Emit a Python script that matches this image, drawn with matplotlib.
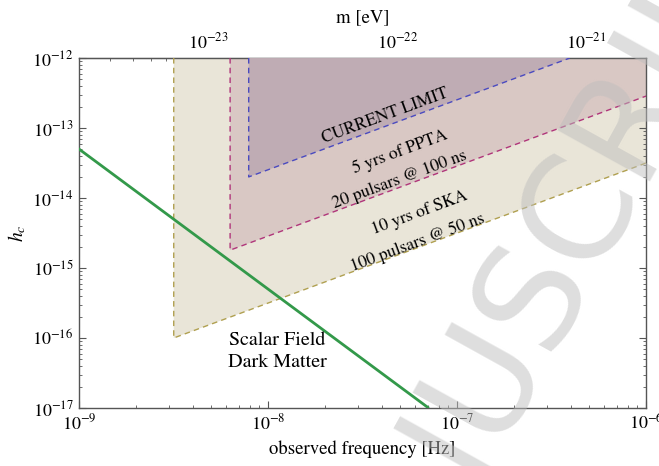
import numpy as np
import matplotlib
matplotlib.use("Agg")
import matplotlib.pyplot as plt
import matplotlib.ticker as mtick

# pulsar timing sensitivity regions (vertices, frequency in Hz, strain h_c)
ska_f = [3.17e-9, 3.17e-9, 1e-6, 1e-6]
ska_h = [1e-12, 1e-16, 3.16e-14, 1e-12]
ppta_f = [6.3e-9, 6.3e-9, 1e-6, 1e-6]
ppta_h = [1e-12, 1.8e-15, 2.86e-13, 1e-12]
cur_f = [7.9e-9, 7.9e-9, 3.95e-7]
cur_h = [1e-12, 2e-14, 1e-12]

# scalar field dark matter signal
sfdm_f = [1e-9, 7e-8]
sfdm_h = [5e-14, 1.02e-17]

HBAR = 6.582e-16  # eV s

plt.rcParams['font.family'] = 'serif'
plt.rcParams['font.serif'] = ['STIXGeneral', 'Liberation Serif']
plt.rcParams['mathtext.fontset'] = 'stix'

fig = plt.figure(figsize=(6.59, 4.66), dpi=100)
ax = fig.add_axes([0.1199, 0.1245, 0.8605, 0.751])
ax.set_xscale('log')
ax.set_yscale('log')
ax.set_xlim(1e-9, 1e-6)
ax.set_ylim(1e-17, 1e-12)

# filled regions
ax.fill(ska_f, ska_h, color='#e9e5d8', lw=0, zorder=1)
ax.fill(ppta_f, ppta_h, color='#d9c8c4', lw=0, zorder=2)
ax.fill(cur_f, cur_h, color='#bfacb4', lw=0, zorder=3)

dash = (0, (4, 3))
ax.plot(ska_f[:3], ska_h[:3], color='#b0a050', lw=1, ls=dash, zorder=4)
ax.plot(ppta_f[:3], ppta_h[:3], color='#b0357a', lw=1, ls=dash, zorder=4)
ax.plot(cur_f, cur_h, color='#4a4ac0', lw=1, ls=dash, zorder=4)

ax.plot(sfdm_f, sfdm_h, color='#33994a', lw=2, zorder=5)

# labels in the regions
rot = 20.3
fs = 12.5
kw = dict(rotation=rot, fontsize=fs, ha='center', va='center', zorder=6,
          rotation_mode='anchor')
ax.text(4.16e-8, 1.5e-13, 'CURRENT LIMIT', **kw)
ax.text(5.0e-8, 4.5e-14, '5 yrs of PPTA', **kw)
ax.text(5.0e-8, 1.8e-14, '20 pulsars @ 100 ns', **kw)
ax.text(6.3e-8, 6.1e-15, '10 yrs of SKA', **kw)
ax.text(6.2e-8, 2.3e-15, '100 pulsars @ 50 ns', **kw)
ax.text(1.12e-8, 6.4e-17, 'Scalar Field\nDark Matter', fontsize=14.5,
        ha='center', va='center', linespacing=1.42, zorder=6)

# axes styling
for s in ax.spines.values():
    s.set_color('#555555')
    s.set_linewidth(1.0)
ax.tick_params(which='both', direction='in', top=False, right=True,
               labelsize=13, color='#555555', pad=4)
ax.tick_params(which='major', length=5)
ax.tick_params(which='minor', length=2.5)
ax.xaxis.set_major_locator(mtick.LogLocator(base=10, numticks=10))
ax.xaxis.set_minor_locator(mtick.LogLocator(base=10, subs=np.arange(2, 10), numticks=10))
ax.yaxis.set_minor_locator(mtick.LogLocator(base=10, subs=np.arange(2, 10), numticks=10))
ax.xaxis.set_minor_formatter(mtick.NullFormatter())
ax.yaxis.set_minor_formatter(mtick.NullFormatter())

ax.set_xlabel('observed frequency [Hz]', fontsize=13.5, labelpad=5)
ax.set_ylabel('$h_c$', fontsize=14, labelpad=3)

# top mass axis
secax = ax.secondary_xaxis('top', functions=(lambda f: np.pi * HBAR * f,
                                             lambda m: m / (np.pi * HBAR)))
secax.tick_params(which='both', direction='in', labelsize=13, color='#555555', pad=4)
secax.tick_params(which='major', length=5)
secax.tick_params(which='minor', length=2.5)
secax.xaxis.set_minor_formatter(mtick.NullFormatter())
secax.set_xlabel('m [eV]', fontsize=13.5, labelpad=7)

# faint watermark
fig.text(0.800, 0.363, 'MANUSCRIPT', rotation=61, rotation_mode='anchor',
         fontsize=104, color='#bdbdbd', alpha=0.5, ha='center', va='center',
         family='DejaVu Sans', zorder=20)

fig.savefig('out.png', dpi=100)
